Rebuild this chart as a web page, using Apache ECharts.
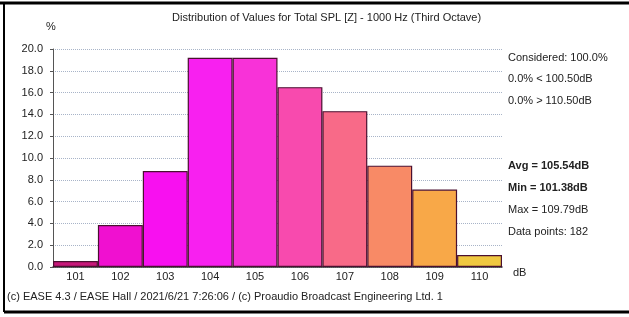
<!DOCTYPE html>
<html>
<head>
<meta charset="utf-8">
<script src="https://cdn.jsdelivr.net/npm/echarts@6/dist/echarts.min.js"></script>
<style>
  html, body { margin: 0; padding: 0; background: #fff; }
  #chart { width: 629px; height: 317px; }
</style>
</head>
<body>
<div id="chart"></div>
<script>
// histogram bins (dB) and their share of points (%)
const bins = ['101', '102', '103', '104', '105', '106', '107', '108', '109', '110']
const values = [0.55, 3.85, 8.8, 19.2, 19.2, 16.5, 14.3, 9.3, 7.1, 1.1]
const binColors = ['#c8187a', '#f010d0', '#f810f0', '#f820f0', '#f832d8', '#f84aae', '#f86a88', '#f88a66', '#f8a848', '#f0c840']

const statsTop = ['Considered: 100.0%', '0.0% < 100.50dB', '0.0% > 110.50dB']
const statsBottom = ['Avg = 105.54dB', 'Min = 101.38dB', 'Max = 109.79dB', 'Data points: 182']

const font = '"Liberation Sans Narrow", "Liberation Sans", Arial, sans-serif'

const chart = echarts.init(document.getElementById('chart'))

const graphic = [
  // outer frame (top, left, bottom)
  { type: 'line', shape: { x1: 0, y1: 3, x2: 629, y2: 3 }, style: { stroke: '#000', lineWidth: 3 } },
  { type: 'line', shape: { x1: 4, y1: 3, x2: 4, y2: 312 }, style: { stroke: '#000', lineWidth: 2 } },
  { type: 'line', shape: { x1: 4, y1: 312, x2: 629, y2: 312 }, style: { stroke: '#000', lineWidth: 3 } },
  { type: 'text', left: 172, top: 12, style: { text: 'Distribution of Values for Total SPL [Z] - 1000 Hz (Third Octave)', font: '11px ' + font, fill: '#222' } },
  { type: 'text', left: 46, top: 21, style: { text: '%', font: '11px ' + font, fill: '#222' } },
  { type: 'text', left: 513, top: 267, style: { text: 'dB', font: '11px ' + font, fill: '#222' } },
  { type: 'text', left: 7, top: 291, style: { text: '(c) EASE 4.3 / EASE Hall / 2021/6/21 7:26:06 / (c) Proaudio Broadcast Engineering Ltd. 1', font: '11px ' + font, fill: '#222' } }
]
statsTop.forEach((t, i) => {
  graphic.push({ type: 'text', left: 508, top: 52 + i * 21.5, style: { text: t, font: '11px ' + font, fill: '#222' } })
})
statsBottom.forEach((t, i) => {
  graphic.push({ type: 'text', left: 508, top: 160 + i * 22, style: { text: t, font: (i < 2 ? 'bold ' : '') + '11px ' + font, fill: '#222' } })
})

chart.setOption({
  animation: false,
  grid: { left: 53, right: 127, top: 49, bottom: 50, show: false },
  xAxis: {
    type: 'category',
    data: bins,
    axisLine: { show: true, lineStyle: { color: '#333', width: 1.5 } },
    axisTick: { show: false },
    axisLabel: { color: '#222', fontSize: 11, fontFamily: font, margin: 4 }
  },
  yAxis: {
    type: 'value',
    min: 0,
    max: 20,
    interval: 2,
    axisLine: { show: true, lineStyle: { color: '#555' } },
    axisTick: { show: true, length: 3, lineStyle: { color: '#555' } },
    axisLabel: { color: '#222', fontSize: 11, fontFamily: font, margin: 10, formatter: v => v.toFixed(1) },
    splitLine: { show: true, lineStyle: { color: '#a8b4c8', type: 'dotted' } }
  },
  series: [
    {
      type: 'bar',
      data: values.map((v, i) => ({ value: v, itemStyle: { color: binColors[i] } })),
      barCategoryGap: 0,
      itemStyle: { borderColor: '#4a1030', borderWidth: 1.2 }
    },
    {
      // right border of plot area
      type: 'line',
      data: [],
      markLine: {
        silent: true,
        symbol: 'none',
        label: { show: false },
        lineStyle: { color: '#c8c8c8', type: 'dotted', width: 1 },
        data: [[{ coord: [9.5, 0] }, { coord: [9.5, 20] }]]
      }
    }
  ],
  graphic
})
</script>
</body>
</html>
